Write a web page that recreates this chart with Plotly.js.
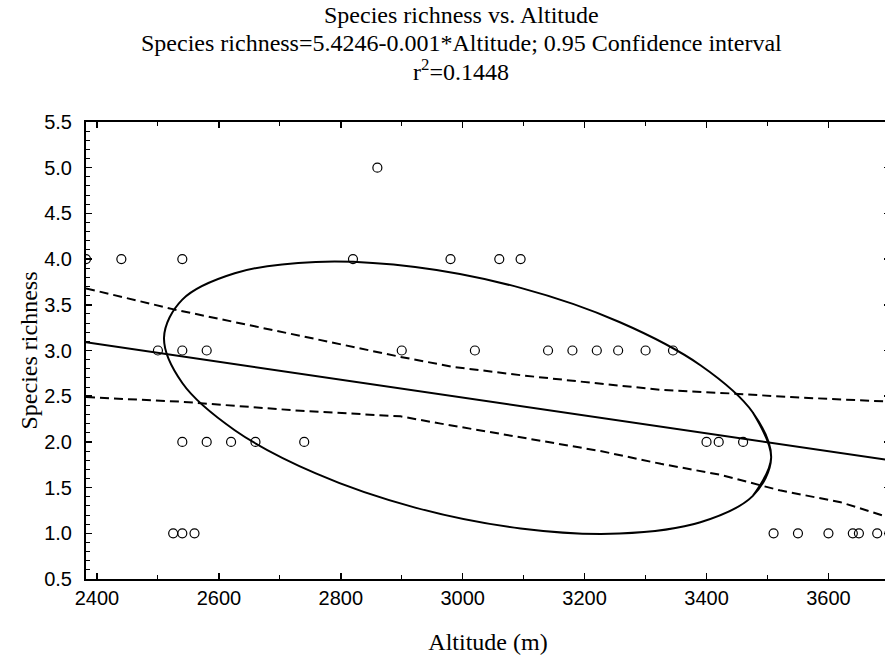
<!DOCTYPE html>
<html>
<head>
<meta charset="utf-8">
<script src="https://cdn.plot.ly/plotly-3.0.1.min.js"></script>
<style>html,body{margin:0;padding:0;background:#fff;overflow:hidden;}#chart{width:890px;height:657px;}</style>
</head>
<body>
<div id="chart"></div>
<script>
// Observed data: altitude (m) and species richness
const altitude = [2382, 2440, 2540, 2820, 2980, 3060, 3095,
                  2860,
                  2500, 2540, 2580, 2900, 3020, 3140, 3180, 3220, 3255, 3300, 3345,
                  2540, 2580, 2620, 2660, 2740, 3400, 3420, 3460,
                  2525, 2540, 2560, 3510, 3550, 3600, 3640, 3650, 3680, 3700];
const richness = [4, 4, 4, 4, 4, 4, 4,
                  5,
                  3, 3, 3, 3, 3, 3, 3, 3, 3, 3, 3,
                  2, 2, 2, 2, 2, 2, 2, 2,
                  1, 1, 1, 1, 1, 1, 1, 1, 1, 1];

// Regression line (read at the plot edges)
const fitAltitude = [2382, 3701];
const fitRichness = [3.09, 1.80];

// 0.95 confidence bands
const upperAltitude = [2382, 2526, 2734, 2898, 2985, 3095, 3193, 3325, 3440, 3538, 3701];
const upperRichness = [3.68, 3.45, 3.16, 2.93, 2.82, 2.73, 2.66, 2.57, 2.53, 2.49, 2.44];
const lowerAltitude = [2382, 2537, 2734, 2898, 2964, 3062, 3128, 3226, 3325, 3423, 3520, 3620, 3701];
const lowerRichness = [2.49, 2.44, 2.34, 2.28, 2.20, 2.09, 2.01, 1.90, 1.76, 1.64, 1.47, 1.34, 1.17];

// Confidence ellipse outline (loop overlaps to close smoothly)
const ellipseAltitude = [3476, 3506, 3476, 3390, 3257, 3095, 2922, 2759, 2626, 2540, 2510,
                         2540, 2626, 2759, 2922, 3095, 3257, 3390, 3476, 3506, 3476];
const ellipseRichness = [2.322, 1.826, 1.409, 1.121, 0.997, 1.053, 1.281, 1.655, 2.128, 2.644, 3.140,
                         3.557, 3.845, 3.969, 3.913, 3.685, 3.312, 2.839, 2.322, 1.826, 1.409];

// Text
const titleLines = ['Species richness vs. Altitude',
                    'Species richness=5.4246-0.001*Altitude; 0.95 Confidence interval',
                    'r<sup>2</sup>=0.1448'];
const xTitle = 'Altitude (m)';
const yTitle = 'Species richness';

const serif = 'Liberation Serif, Times New Roman, serif';
const sans = 'Liberation Sans, Arial, sans-serif';

const traces = [
  {x: upperAltitude, y: upperRichness, mode: 'lines', line: {color: '#000', width: 2, dash: '9px,5px'}, hoverinfo: 'skip'},
  {x: lowerAltitude, y: lowerRichness, mode: 'lines', line: {color: '#000', width: 2, dash: '9px,5px'}, hoverinfo: 'skip'},
  {x: fitAltitude, y: fitRichness, mode: 'lines', line: {color: '#000', width: 2}},
  {x: ellipseAltitude, y: ellipseRichness, mode: 'lines', line: {color: '#000', width: 2, shape: 'spline', smoothing: 1}},
  {x: altitude, y: richness, mode: 'markers', marker: {symbol: 'circle-open', size: 9, color: '#000', line: {width: 1.2, color: '#000'}}}
];

// plot area is 86..890 px so that the right frame falls just outside the 885 px window
const titleX = (461 - 86) / 804;
const layout = {
  width: 890, height: 657,
  margin: {l: 86, r: 0, t: 122, b: 78},
  paper_bgcolor: '#fff', plot_bgcolor: '#fff',
  showlegend: false,
  font: {family: sans, color: '#000'},
  xaxis: {
    range: [2382, 3701], tick0: 2400, dtick: 200,
    ticks: 'inside', ticklen: 6, tickwidth: 1.5, tickcolor: '#000',
    minor: {ticks: 'inside', dtick: 100, ticklen: 4, tickwidth: 1, tickcolor: '#000'},
    showline: true, linewidth: 2, linecolor: '#000', mirror: 'ticks',
    showgrid: false, zeroline: false,
    tickfont: {family: sans, size: 20, color: '#000'},
    title: {text: xTitle, font: {family: serif, size: 24, color: '#000'}, standoff: 25}
  },
  yaxis: {
    range: [0.5, 5.5], tick0: 0.5, dtick: 0.5, tickformat: '.1f',
    ticks: 'inside', ticklen: 6, tickwidth: 1.5, tickcolor: '#000',
    minor: {ticks: 'inside', dtick: 0.1, ticklen: 4, tickwidth: 1, tickcolor: '#000'},
    showline: true, linewidth: 2, linecolor: '#000', mirror: 'ticks',
    showgrid: false, zeroline: false,
    ticklabelstandoff: 8,
    tickfont: {family: sans, size: 20, color: '#000'},
    title: {text: yTitle, font: {family: serif, size: 24, color: '#000'}, standoff: 0}
  },
  annotations: [
    {text: titleLines[0], xref: 'paper', yref: 'paper', x: titleX, y: 1.234, xanchor: 'center', yanchor: 'middle', showarrow: false, font: {family: serif, size: 24, color: '#000'}},
    {text: titleLines[1], xref: 'paper', yref: 'paper', x: titleX, y: 1.173, xanchor: 'center', yanchor: 'middle', showarrow: false, font: {family: serif, size: 24, color: '#000'}},
    {text: titleLines[2], xref: 'paper', yref: 'paper', x: titleX, y: 1.113, xanchor: 'center', yanchor: 'middle', showarrow: false, font: {family: serif, size: 24, color: '#000'}}
  ]
};

Plotly.newPlot('chart', traces, layout, {displayModeBar: false, staticPlot: true});
</script>
</body>
</html>
